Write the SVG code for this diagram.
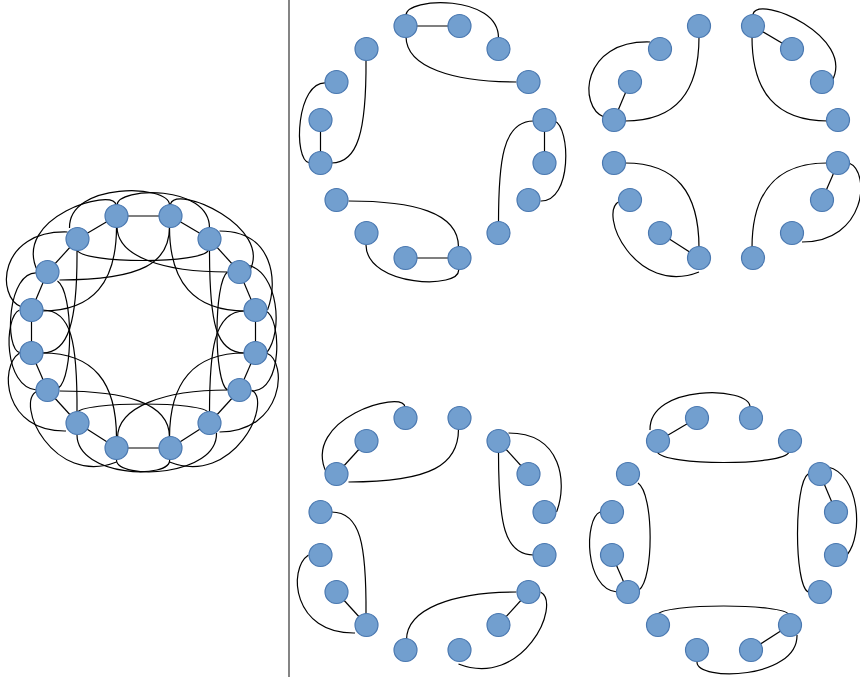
<svg xmlns="http://www.w3.org/2000/svg" width="860" height="679" viewBox="0 0 860 679">
<style>
.n{fill:#729fcf;stroke:#4a78b0;stroke-width:1.2}
.e{fill:none;stroke:#000;stroke-width:1.2}
.div{stroke:#666;stroke-width:1.6}
</style>
<defs>
<path id="s0" d="M-27,-116L27,-116"/>
<path id="s1" d="M27,-116L66,-93"/>
<path id="s2" d="M66,-93L96,-60"/>
<path id="s3" d="M96,-60L112,-22"/>
<path id="s4" d="M112,-22L112,21"/>
<path id="s5" d="M112,21L96,58"/>
<path id="s6" d="M96,58L66,91"/>
<path id="s7" d="M66,91L27,116"/>
<path id="s8" d="M27,116L-27,116"/>
<path id="s9" d="M-27,116L-66,91"/>
<path id="s10" d="M-66,91L-96,58"/>
<path id="s11" d="M-96,58L-112,21"/>
<path id="s12" d="M-112,21L-112,-22"/>
<path id="s13" d="M-112,-22L-96,-60"/>
<path id="s14" d="M-96,-60L-66,-93"/>
<path id="s15" d="M-66,-93L-27,-116"/>
<path id="e0_2" d="M-26.5,-127C-26,-145 66,-148 66,-104"/>
<path id="e0_3" d="M-26.5,-105C-26,-75 20,-60 84,-60"/>
<path id="e12_15" d="M-66.5,-82C-66,-10 -75,21 -101,21"/>
<path id="e12_14" d="M-106,-59C-136,-62 -140,18 -123,21"/>
<path id="e8_11" d="M-84,59C-20,59 26,70 26,105"/>
<path id="e8_10" d="M-66.5,103C-66,145 30,148 26,127"/>
<path id="e4_6" d="M122,-21C138,-15 140,60 108,59"/>
<path id="e4_7" d="M101,-21C70,-21 66,20 66,81"/>
<path id="e1_3" d="M27,-128C33,-148 130,-105 106,-61"/>
<path id="e1_4" d="M26,-105C26,-50 50,-21 102,-21"/>
<path id="e13_0" d="M-27,-105C-27,-50 -50,-21 -101,-21"/>
<path id="e13_15" d="M-76,-100C-145,-102 -148,-35 -122,-25"/>
<path id="e9_12" d="M-101,21C-50,21 -27,50 -27,106"/>
<path id="e9_11" d="M-106,59C-130,70 -90,155 -27,130"/>
<path id="e5_8" d="M26,106C26,50 50,21 101,21"/>
<path id="e5_7" d="M76,100C140,100 145,30 123,21"/>
<path id="e14_1" d="M26,-105C26,-70 0,-52 -84,-52"/>
<path id="e14_0" d="M-27.5,-127C-30,-145 -132,-115 -106,-61"/>
<path id="e2_4" d="M76,-101C130,-101 135,-50 124,-22"/>
<path id="e2_5" d="M66,-82C66,-10 72,21 101,21"/>
<path id="e6_9" d="M84,58C20,58 -26,75 -26,106"/>
<path id="e6_8" d="M108,58C130,70 90,155 26,130"/>
<path id="e10_13" d="M-66.5,81C-66,10 -72,-22 -101,-22"/>
<path id="e10_12" d="M-77.5,99C-140,100 -145,35 -124,21"/>
<path id="e15_1" d="M-74,-104C-75,-150 26,-148 26,-127"/>
<path id="e15_2" d="M-66.7,-82C-60,-68 60,-68 65,-82"/>
<path id="e3_5" d="M104,-67C135,-60 140,0 123,21"/>
<path id="e3_6" d="M84,-60C70,-50 70,50 84,58"/>
<path id="e7_9" d="M73,101C74,145 -27,148 -27,128"/>
<path id="e7_10" d="M65,81C62,69 -62,69 -67,81"/>
<path id="e11_13" d="M-107,58C-140,55 -140,-15 -124,-22"/>
<path id="e11_14" d="M-85,56C-70,45 -70,-40 -86,-51"/>
</defs>
<line class="div" x1="289" y1="0" x2="289" y2="677"/>

<!-- Left: full graph -->
<g id="full" transform="translate(143.5,332)">
<g id="full-connectors" class="e">
<use href="#s0"/><use href="#s1"/><use href="#s2"/><use href="#s3"/><use href="#s4"/><use href="#s5"/><use href="#s6"/><use href="#s7"/>
<use href="#s8"/><use href="#s9"/><use href="#s10"/><use href="#s11"/><use href="#s12"/><use href="#s13"/><use href="#s14"/><use href="#s15"/>
<use href="#e0_2"/><use href="#e0_3"/><use href="#e12_15"/><use href="#e12_14"/><use href="#e8_11"/><use href="#e8_10"/><use href="#e4_6"/><use href="#e4_7"/>
<use href="#e1_3"/><use href="#e1_4"/><use href="#e13_0"/><use href="#e13_15"/><use href="#e9_12"/><use href="#e9_11"/><use href="#e5_8"/><use href="#e5_7"/>
<use href="#e14_1"/><use href="#e14_0"/><use href="#e2_4"/><use href="#e2_5"/><use href="#e6_9"/><use href="#e6_8"/><use href="#e10_13"/><use href="#e10_12"/>
<use href="#e15_1"/><use href="#e15_2"/><use href="#e3_5"/><use href="#e3_6"/><use href="#e7_9"/><use href="#e7_10"/><use href="#e11_13"/><use href="#e11_14"/>
</g>
<g id="full-n0"><circle class="n" cx="-27" cy="-116" r="11.5"/></g>
<g id="full-n1"><circle class="n" cx="27" cy="-116" r="11.5"/></g>
<g id="full-n2"><circle class="n" cx="66" cy="-93" r="11.5"/></g>
<g id="full-n3"><circle class="n" cx="96" cy="-60" r="11.5"/></g>
<g id="full-n4"><circle class="n" cx="112" cy="-22" r="11.5"/></g>
<g id="full-n5"><circle class="n" cx="112" cy="21" r="11.5"/></g>
<g id="full-n6"><circle class="n" cx="96" cy="58" r="11.5"/></g>
<g id="full-n7"><circle class="n" cx="66" cy="91" r="11.5"/></g>
<g id="full-n8"><circle class="n" cx="27" cy="116" r="11.5"/></g>
<g id="full-n9"><circle class="n" cx="-27" cy="116" r="11.5"/></g>
<g id="full-n10"><circle class="n" cx="-66" cy="91" r="11.5"/></g>
<g id="full-n11"><circle class="n" cx="-96" cy="58" r="11.5"/></g>
<g id="full-n12"><circle class="n" cx="-112" cy="21" r="11.5"/></g>
<g id="full-n13"><circle class="n" cx="-112" cy="-22" r="11.5"/></g>
<g id="full-n14"><circle class="n" cx="-96" cy="-60" r="11.5"/></g>
<g id="full-n15"><circle class="n" cx="-66" cy="-93" r="11.5"/></g>
</g>

<!-- Panel 1 -->
<g id="p1" transform="translate(432.5,142)">
<g id="p1-connectors" class="e">
<use href="#s0"/><use href="#s4"/><use href="#s8"/><use href="#s12"/>
<use href="#e0_2"/><use href="#e0_3"/><use href="#e12_15"/><use href="#e12_14"/><use href="#e8_11"/><use href="#e8_10"/><use href="#e4_6"/><use href="#e4_7"/>
</g>
<g id="p1-n0"><circle class="n" cx="-27" cy="-116" r="11.5"/></g>
<g id="p1-n1"><circle class="n" cx="27" cy="-116" r="11.5"/></g>
<g id="p1-n2"><circle class="n" cx="66" cy="-93" r="11.5"/></g>
<g id="p1-n3"><circle class="n" cx="96" cy="-60" r="11.5"/></g>
<g id="p1-n4"><circle class="n" cx="112" cy="-22" r="11.5"/></g>
<g id="p1-n5"><circle class="n" cx="112" cy="21" r="11.5"/></g>
<g id="p1-n6"><circle class="n" cx="96" cy="58" r="11.5"/></g>
<g id="p1-n7"><circle class="n" cx="66" cy="91" r="11.5"/></g>
<g id="p1-n8"><circle class="n" cx="27" cy="116" r="11.5"/></g>
<g id="p1-n9"><circle class="n" cx="-27" cy="116" r="11.5"/></g>
<g id="p1-n10"><circle class="n" cx="-66" cy="91" r="11.5"/></g>
<g id="p1-n11"><circle class="n" cx="-96" cy="58" r="11.5"/></g>
<g id="p1-n12"><circle class="n" cx="-112" cy="21" r="11.5"/></g>
<g id="p1-n13"><circle class="n" cx="-112" cy="-22" r="11.5"/></g>
<g id="p1-n14"><circle class="n" cx="-96" cy="-60" r="11.5"/></g>
<g id="p1-n15"><circle class="n" cx="-66" cy="-93" r="11.5"/></g>
</g>

<!-- Panel 2 -->
<g id="p2" transform="translate(726,142)">
<g id="p2-connectors" class="e">
<use href="#s1"/><use href="#s5"/><use href="#s9"/><use href="#s13"/>
<use href="#e1_3"/><use href="#e1_4"/><use href="#e13_0"/><use href="#e13_15"/><use href="#e9_12"/><use href="#e9_11"/><use href="#e5_8"/><use href="#e5_7"/>
</g>
<g id="p2-n0"><circle class="n" cx="-27" cy="-116" r="11.5"/></g>
<g id="p2-n1"><circle class="n" cx="27" cy="-116" r="11.5"/></g>
<g id="p2-n2"><circle class="n" cx="66" cy="-93" r="11.5"/></g>
<g id="p2-n3"><circle class="n" cx="96" cy="-60" r="11.5"/></g>
<g id="p2-n4"><circle class="n" cx="112" cy="-22" r="11.5"/></g>
<g id="p2-n5"><circle class="n" cx="112" cy="21" r="11.5"/></g>
<g id="p2-n6"><circle class="n" cx="96" cy="58" r="11.5"/></g>
<g id="p2-n7"><circle class="n" cx="66" cy="91" r="11.5"/></g>
<g id="p2-n8"><circle class="n" cx="27" cy="116" r="11.5"/></g>
<g id="p2-n9"><circle class="n" cx="-27" cy="116" r="11.5"/></g>
<g id="p2-n10"><circle class="n" cx="-66" cy="91" r="11.5"/></g>
<g id="p2-n11"><circle class="n" cx="-96" cy="58" r="11.5"/></g>
<g id="p2-n12"><circle class="n" cx="-112" cy="21" r="11.5"/></g>
<g id="p2-n13"><circle class="n" cx="-112" cy="-22" r="11.5"/></g>
<g id="p2-n14"><circle class="n" cx="-96" cy="-60" r="11.5"/></g>
<g id="p2-n15"><circle class="n" cx="-66" cy="-93" r="11.5"/></g>
</g>

<!-- Panel 3 -->
<g id="p3" transform="translate(432.5,534)">
<g id="p3-connectors" class="e">
<use href="#s2"/><use href="#s6"/><use href="#s10"/><use href="#s14"/>
<use href="#e14_1"/><use href="#e14_0"/><use href="#e2_4"/><use href="#e2_5"/><use href="#e6_9"/><use href="#e6_8"/><use href="#e10_13"/><use href="#e10_12"/>
</g>
<g id="p3-n0"><circle class="n" cx="-27" cy="-116" r="11.5"/></g>
<g id="p3-n1"><circle class="n" cx="27" cy="-116" r="11.5"/></g>
<g id="p3-n2"><circle class="n" cx="66" cy="-93" r="11.5"/></g>
<g id="p3-n3"><circle class="n" cx="96" cy="-60" r="11.5"/></g>
<g id="p3-n4"><circle class="n" cx="112" cy="-22" r="11.5"/></g>
<g id="p3-n5"><circle class="n" cx="112" cy="21" r="11.5"/></g>
<g id="p3-n6"><circle class="n" cx="96" cy="58" r="11.5"/></g>
<g id="p3-n7"><circle class="n" cx="66" cy="91" r="11.5"/></g>
<g id="p3-n8"><circle class="n" cx="27" cy="116" r="11.5"/></g>
<g id="p3-n9"><circle class="n" cx="-27" cy="116" r="11.5"/></g>
<g id="p3-n10"><circle class="n" cx="-66" cy="91" r="11.5"/></g>
<g id="p3-n11"><circle class="n" cx="-96" cy="58" r="11.5"/></g>
<g id="p3-n12"><circle class="n" cx="-112" cy="21" r="11.5"/></g>
<g id="p3-n13"><circle class="n" cx="-112" cy="-22" r="11.5"/></g>
<g id="p3-n14"><circle class="n" cx="-96" cy="-60" r="11.5"/></g>
<g id="p3-n15"><circle class="n" cx="-66" cy="-93" r="11.5"/></g>
</g>

<!-- Panel 4 -->
<g id="p4" transform="translate(724,534)">
<g id="p4-connectors" class="e">
<use href="#s3"/><use href="#s7"/><use href="#s11"/><use href="#s15"/>
<use href="#e15_1"/><use href="#e15_2"/><use href="#e3_5"/><use href="#e3_6"/><use href="#e7_9"/><use href="#e7_10"/><use href="#e11_13"/><use href="#e11_14"/>
</g>
<g id="p4-n0"><circle class="n" cx="-27" cy="-116" r="11.5"/></g>
<g id="p4-n1"><circle class="n" cx="27" cy="-116" r="11.5"/></g>
<g id="p4-n2"><circle class="n" cx="66" cy="-93" r="11.5"/></g>
<g id="p4-n3"><circle class="n" cx="96" cy="-60" r="11.5"/></g>
<g id="p4-n4"><circle class="n" cx="112" cy="-22" r="11.5"/></g>
<g id="p4-n5"><circle class="n" cx="112" cy="21" r="11.5"/></g>
<g id="p4-n6"><circle class="n" cx="96" cy="58" r="11.5"/></g>
<g id="p4-n7"><circle class="n" cx="66" cy="91" r="11.5"/></g>
<g id="p4-n8"><circle class="n" cx="27" cy="116" r="11.5"/></g>
<g id="p4-n9"><circle class="n" cx="-27" cy="116" r="11.5"/></g>
<g id="p4-n10"><circle class="n" cx="-66" cy="91" r="11.5"/></g>
<g id="p4-n11"><circle class="n" cx="-96" cy="58" r="11.5"/></g>
<g id="p4-n12"><circle class="n" cx="-112" cy="21" r="11.5"/></g>
<g id="p4-n13"><circle class="n" cx="-112" cy="-22" r="11.5"/></g>
<g id="p4-n14"><circle class="n" cx="-96" cy="-60" r="11.5"/></g>
<g id="p4-n15"><circle class="n" cx="-66" cy="-93" r="11.5"/></g>
</g>
</svg>
